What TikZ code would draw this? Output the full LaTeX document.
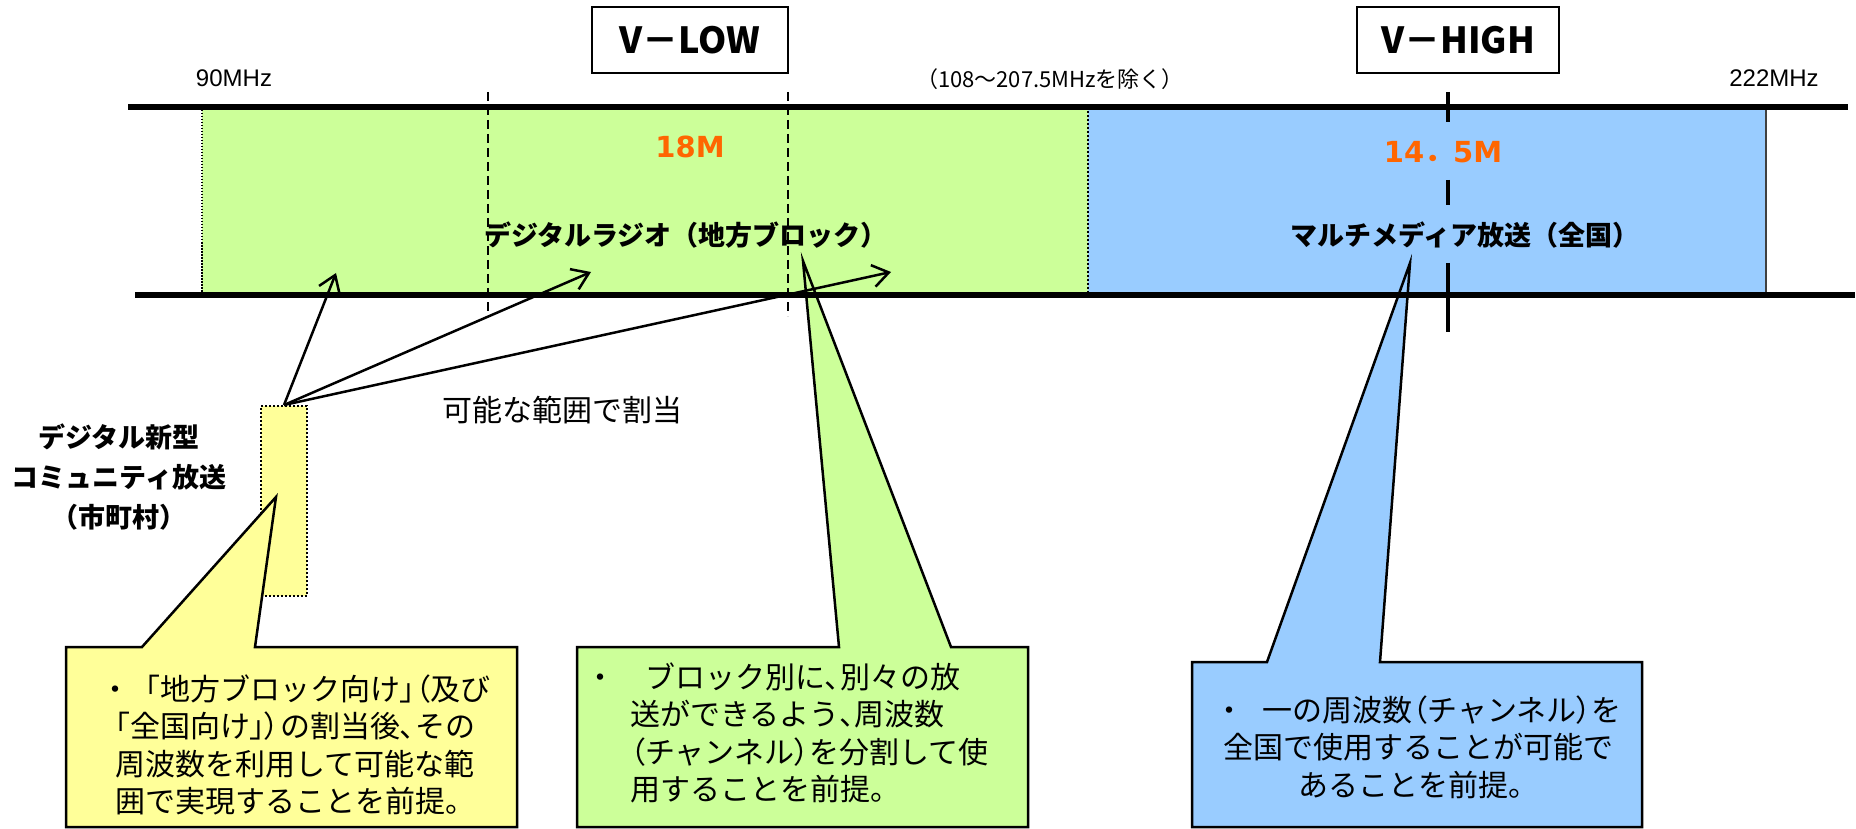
\documentclass[tikz,border=0pt]{standalone}
\usepackage{fontspec}
\setmainfont{Noto Sans CJK JP}
\newfontfamily\latf{Liberation Sans}
\newfontfamily\numf{DejaVu Sans}
\newfontfamily\jpp[RawFeature=+palt]{Noto Sans CJK JP}
\newcommand{\np}[1]{{\jpp #1}}
\usetikzlibrary{arrows.meta}
\definecolor{bandgreen}{HTML}{CCFF99}
\definecolor{bandblue}{HTML}{99CCFF}
\definecolor{noteyellow}{HTML}{FFFF99}
\definecolor{numorange}{HTML}{FF6600}
\begin{document}
\begin{tikzpicture}[x=1pt,y=-1pt,
  thickline/.style={line width=6pt},
  vdash/.style={line width=2.5pt, dash pattern=on 9pt off 5pt},
  callout/.style={draw=black, line width=2.5pt},
  alloc/.style={line width=2.5pt, -{Straight Barb[length=16pt,width=22pt]}},
  bandlabel/.style={font=\fontsize{27}{40}\selectfont\bfseries, inner sep=0pt},
  numlabel/.style={font=\fontsize{29}{36}\selectfont\bfseries, text=numorange, inner sep=0pt},
  freqlabel/.style={font=\latf\fontsize{24}{28}\selectfont, inner sep=0pt},
  titlebox/.style={draw, line width=2.5pt, minimum height=66pt, font=\fontsize{36}{40}\selectfont\bfseries, inner sep=0pt},
  notetext/.style={font=\fontsize{30}{37.5}\selectfont, inner sep=0pt},
]
\useasboundingbox (0,0) rectangle (1856,829);

% frequency bands
\fill[bandgreen] (202,107) rectangle (1088,295);
\fill[bandblue] (1088,107) rectangle (1766,295);
\draw[line width=1.5pt, dash pattern=on 1.5pt off 1.5pt] (202,107) -- (202,295);
\draw[line width=2.5pt, dash pattern=on 2pt off 2pt] (1088,107) -- (1088,295);
\draw[line width=2.5pt, black!75] (1766,107) -- (1766,295);

% small community box
\node[draw, fill=noteyellow, dash pattern=on 2pt off 2pt, line width=2pt, minimum width=46pt, minimum height=190pt, inner sep=0pt] (comm) at (284,501) {};

% callouts
\path[callout, fill=noteyellow] (66,647) -- (142,647) -- (276,497) -- (255,647) -- (517,647) -- (517,827) -- (66,827) -- cycle;
\path[callout, fill=bandgreen] (577,647) -- (839,647) -- (803,261) -- (951,647) -- (1028,647) -- (1028,827) -- (577,827) -- cycle;
\path[callout, fill=bandblue] (1192,662) -- (1267,662) -- (1410,263) -- (1380,662) -- (1642,662) -- (1642,827) -- (1192,827) -- cycle;

% V-LOW dashed dividers
\draw[vdash] (488,92) -- (488,316);
\draw[vdash] (788,92) -- (788,316);

% band borders
\draw[thickline] (128,107) -- (1848,107);
\draw[thickline] (135,295) -- (1855,295);

% V-HIGH marker
\draw[line width=3.5pt, dash pattern=on 30pt off 58pt on 25pt off 58pt on 70pt] (1448,92) -- (1448,332);

% titles
\node[titlebox, minimum width=196pt] (vlow) at (690,40) {V－LOW};
\node[titlebox, minimum width=202pt] (vhigh) at (1458,40) {V－HIGH};

% frequency labels
\node[freqlabel, anchor=base] (f90) at (234,87) {90MHz};
\node[font=\fontsize{22}{26}\selectfont, inner sep=0pt] (fex) at (1050,79) {（108〜207.5MHzを除く）};
\node[freqlabel, anchor=base] (f222) at (1774,87) {222MHz};

% widths
\node[numlabel, anchor=base] (w18) at (690,158) {\numf 18M};
\node[numlabel, anchor=base] (w145) at (1443,163) {{\numf 14}．{\numf 5M}};

% band names
\node[bandlabel] (dr) at (686,235) {デジタルラジオ（地方ブロック）};
\node[bandlabel] (mm) at (1465,235) {マルチメディア放送（全国）};

% community label
\node[bandlabel, align=center] (commlabel) at (119,477) {デジタル新型\\コミュニティ放送\\（市町村）};
\node[font=\fontsize{30}{36}\selectfont, inner sep=0pt] (kanou) at (562,410) {可能な範囲で割当};

% allocation arrows
\coordinate (a1) at (336,273);
\coordinate (a2) at (591,272);
\coordinate (a3) at (891,272);
\draw[alloc] (comm.north) -- (a1);
\draw[alloc] (comm.north) -- (a2);
\draw[alloc] (comm.north) -- (a3);

% callout texts
\node[notetext, align=center] (ny) at (295,745) {・「地方ブロック向け\np{」（}及び\\\np{「}全国向け\np{」）}の割当後\np{、}その\\周波数を利用して可能な範\\囲で実現することを前提。};
\node[notetext, align=left, anchor=west] (ng) at (585,733) {・\hspace{30pt}ブロック別に\np{、}別々の放\\\hspace*{45pt}送ができるよう\np{、}周波数\\\hspace*{45pt}\np{（}チャンネル\np{）}を分割して使\\\hspace*{45pt}用することを前提。};
\node[notetext, align=center] (nb) at (1418,747) {・\hspace{18pt}一の周波数\np{（}チャンネル\np{）}を\\全国で使用することが可能で\\あることを前提。};
\end{tikzpicture}
\end{document}
